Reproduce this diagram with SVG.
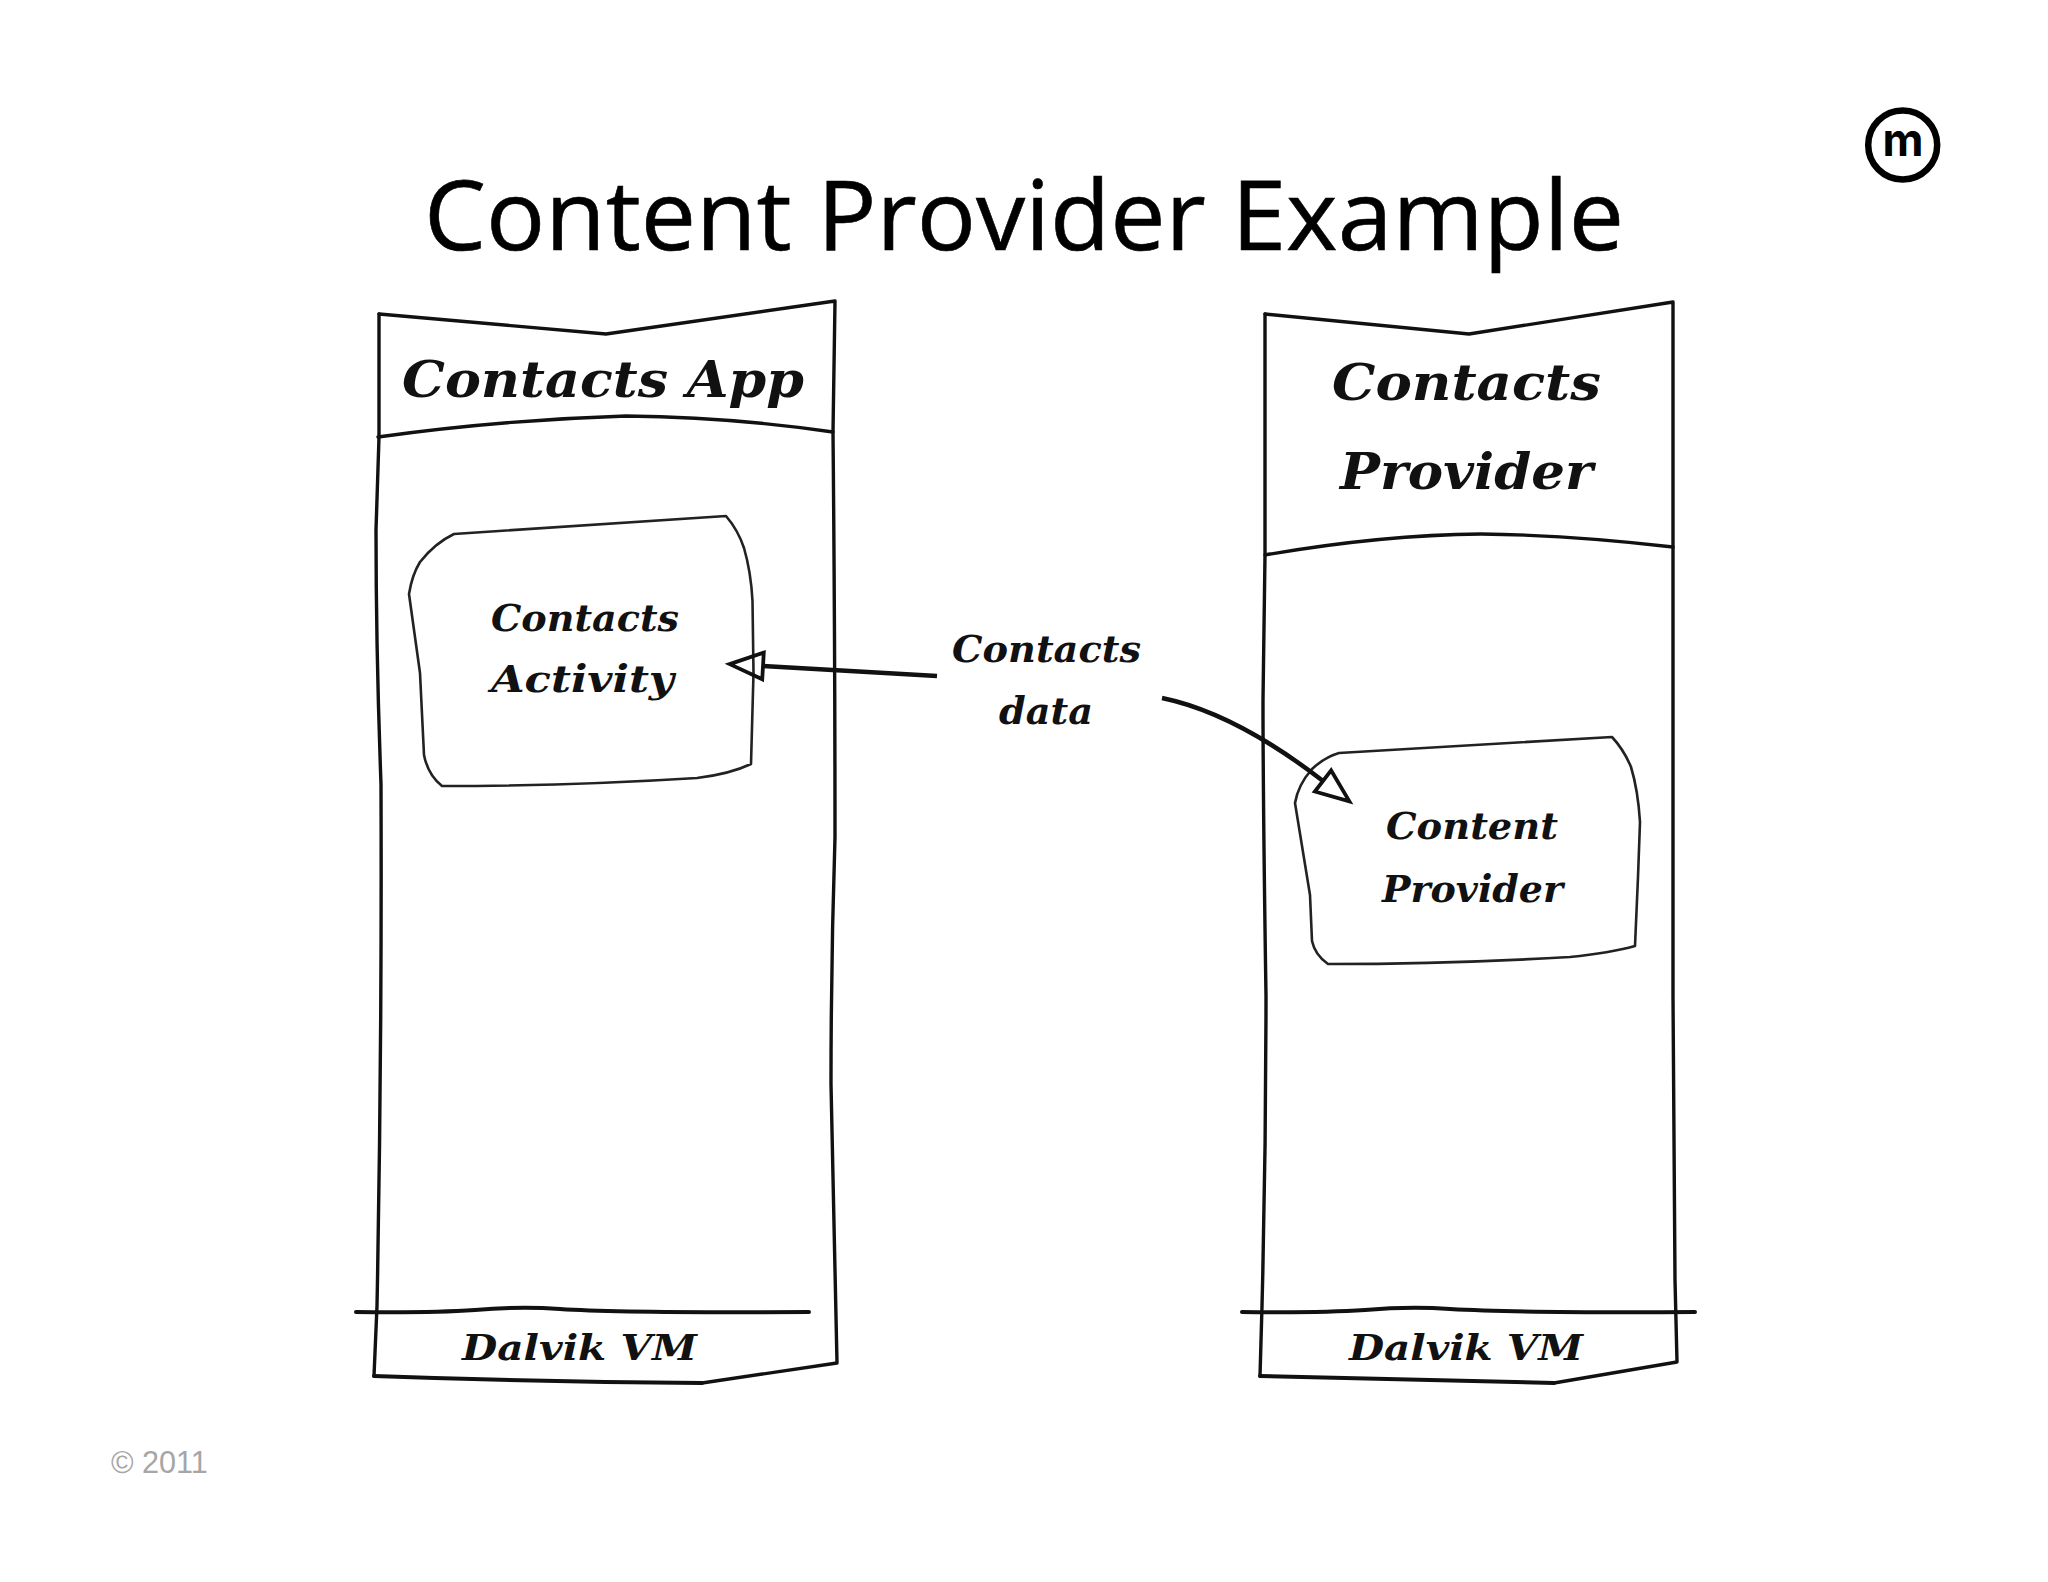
<svg xmlns="http://www.w3.org/2000/svg" width="2048" height="1582" viewBox="0 0 2048 1582">
<style>
.o{fill:none;stroke:#111;stroke-width:3.4;stroke-linejoin:round;stroke-linecap:round}
.f{fill:none;stroke:#111;stroke-width:4;stroke-linecap:round}
.b{fill:none;stroke:#222;stroke-width:2.6;stroke-linejoin:round}
.h{font-family:"DejaVu Serif","Liberation Serif",serif;font-style:italic;font-weight:700;fill:#111;text-anchor:start}
.a{fill:none;stroke:#111;stroke-width:4.5;stroke-linecap:butt}
</style>
<defs>
<marker id="head" markerUnits="userSpaceOnUse" markerWidth="40" markerHeight="32" viewBox="-2 -2 36 28" refX="0" refY="12" orient="auto" overflow="visible">
<path d="M0 0L30 12L0 24Z" fill="none" stroke="#111" stroke-width="3.4" stroke-linejoin="miter"/>
</marker>
</defs>
<rect width="2048" height="1582" fill="#fff"/>
<text id="title" x="424" y="250" font-family="'Open Sans','Noto Sans',sans-serif" font-size="97" fill="#000" stroke="#000" stroke-width="0.6" textLength="1200" lengthAdjust="spacingAndGlyphs">Content Provider Example</text>
<g id="logo">
<circle cx="1902.7" cy="145" r="34.500" fill="none" stroke="#000" stroke-width="6.500"/>
<text x="1882.500" y="155.700" font-family="Inter,'Open Sans',sans-serif" font-weight="700" font-size="46" fill="#000" textLength="41" lengthAdjust="spacingAndGlyphs">m</text>
</g>
<g id="contacts-app">
<path class="o" d="M379 314L606 334L835 301L833 432Q835 640 835 837Q831 960 831 1084L837 1363L702 1383"/>
<path class="f" d="M702 1383Q540 1382 374 1376"/>
<path class="o" d="M374 1376L377 1306Q382 1050 381 784Q376 650 376 530L379 437L379 314"/>
<path class="o" d="M378 437Q500 420 626 416Q730 417 833 432"/>
<path class="f" d="M356 1312Q430 1313 475 1310Q520 1306 560 1309Q620 1313 809 1312"/>
<text class="h" x="402" y="397" font-size="50" textLength="402" lengthAdjust="spacingAndGlyphs">Contacts App</text>
<text class="h" x="462" y="1360" font-size="36" textLength="235" lengthAdjust="spacingAndGlyphs">Dalvik VM</text>
</g>
<g id="contacts-activity">
<path class="b" d="M454 534L726 516Q738 530 744 548Q751 572 752.500 601L753.500 673L751 764Q730 774 697 778Q570 786 442 786Q428 775 424 755L420 673L409 594Q412 575 420 562Q435 543 454 534Z"/>
<text class="h" x="491" y="631" font-size="38" textLength="188" lengthAdjust="spacingAndGlyphs">Contacts</text>
<text class="h" x="491" y="692" font-size="38" textLength="183" lengthAdjust="spacingAndGlyphs">Activity</text>
</g>
<g id="contacts-provider">
<path class="o" d="M1265 314L1469 334L1673 302L1673 996L1675 1280L1677 1362L1554 1383"/>
<path class="f" d="M1554 1383Q1410 1380 1260 1376"/>
<path class="o" d="M1260 1376L1262 1306Q1266 1150 1266 996Q1263 800 1263 700L1265 555L1265 314"/>
<path class="o" d="M1265 555Q1380 535 1481 534Q1570 535 1673 547"/>
<path class="f" d="M1242 1312Q1320 1313 1365 1310Q1410 1306 1450 1309Q1520 1313 1695 1312"/>
<text class="h" x="1332" y="400" font-size="50" textLength="269" lengthAdjust="spacingAndGlyphs">Contacts</text>
<text class="h" x="1340" y="489" font-size="50" textLength="253" lengthAdjust="spacingAndGlyphs">Provider</text>
<text class="h" x="1349" y="1360" font-size="36" textLength="234" lengthAdjust="spacingAndGlyphs">Dalvik VM</text>
</g>
<g id="content-provider">
<path class="b" d="M1339 753L1612 737Q1624 750 1631 767Q1638 790 1640 822L1638 877L1635 946Q1610 953 1570 957Q1450 964 1328 964Q1315 955 1312 941L1310 895L1295 803Q1298 785 1312 769Q1325 757 1339 753Z"/>
<text class="h" x="1386" y="839" font-size="38" textLength="172" lengthAdjust="spacingAndGlyphs">Content</text>
<text class="h" x="1382" y="902" font-size="38" textLength="181" lengthAdjust="spacingAndGlyphs">Provider</text>
</g>
<g id="contacts-data">
<text class="h" x="952" y="662" font-size="38" textLength="189" lengthAdjust="spacingAndGlyphs">Contacts</text>
<text class="h" x="999" y="724" font-size="38" textLength="94" lengthAdjust="spacingAndGlyphs">data</text>
</g>
<g id="connectors">
<path class="a" d="M937 676L763 666" marker-end="url(#head)"/>
<path class="a" d="M1162 698Q1235 713 1323 781" marker-end="url(#head)"/>
</g>
<text id="copyright" x="111" y="1473" font-family="'Liberation Sans',Arial,sans-serif" font-size="30.600" fill="#a6a6a6">© 2011</text>
</svg>
